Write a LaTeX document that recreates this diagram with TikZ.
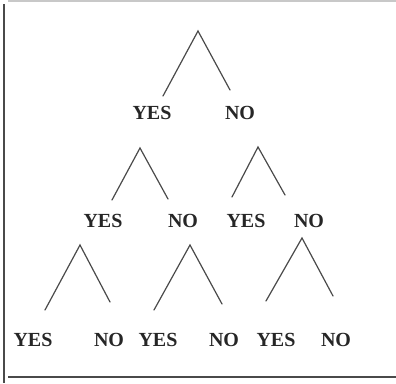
\documentclass[tikz,border=0pt]{standalone}
\usepackage{fontspec}
\setmainfont{Liberation Serif}
\usepackage{tikz}
\definecolor{inkgray}{HTML}{4A4A4A}
\definecolor{rulegray}{HTML}{C8C8C8}

\begin{document}
\begin{tikzpicture}[x=1pt, y=-1pt, line width=1.2pt,
  branch/.style={draw=inkgray, line cap=round},
  answer/.style={font=\fontsize{20}{24}\selectfont\bfseries, text=black!85, inner sep=0pt}]
\useasboundingbox (0,0) rectangle (396,383);
% frame
\draw[rulegray, line width=1.5pt] (8,1) -- (396,1);
\draw[inkgray, line width=2pt] (4,4) -- (4,383);
\draw[inkgray, line width=2pt] (8,377) -- (396,377);
% fork points
\coordinate (a)  at (198,31);  \coordinate (al) at (163,96);  \coordinate (ar) at (230,90);
\coordinate (b)  at (140,148); \coordinate (bl) at (112,200); \coordinate (br) at (168,199);
\coordinate (c)  at (258,147); \coordinate (cl) at (232,197); \coordinate (cr) at (285,195);
\coordinate (d)  at (80,245);  \coordinate (dl) at (45,310);  \coordinate (dr) at (110,302);
\coordinate (e)  at (190,245); \coordinate (el) at (154,310); \coordinate (er) at (222,304);
\coordinate (f)  at (302,238); \coordinate (fl) at (266,301); \coordinate (fr) at (333,296);
\draw[branch] (al) -- (a) -- (ar);
\draw[branch] (bl) -- (b) -- (br);
\draw[branch] (cl) -- (c) -- (cr);
\draw[branch] (dl) -- (d) -- (dr);
\draw[branch] (el) -- (e) -- (er);
\draw[branch] (fl) -- (f) -- (fr);
% answers
\node[answer] (ay) at (152,113) {YES};
\node[answer] (an) at (240,113) {NO};
\node[answer] (by) at (103,221) {YES};
\node[answer] (bn) at (183,221) {NO};
\node[answer] (cy) at (246,221) {YES};
\node[answer] (cn) at (309,221) {NO};
\node[answer] (dy) at (33,340)  {YES};
\node[answer] (dn) at (109,340) {NO};
\node[answer] (ey) at (158,340) {YES};
\node[answer] (en) at (224,340) {NO};
\node[answer] (fy) at (276,340) {YES};
\node[answer] (fn) at (336,340) {NO};
\end{tikzpicture}
\end{document}
